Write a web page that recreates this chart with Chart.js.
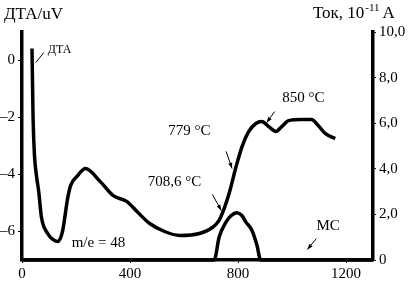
<!DOCTYPE html>
<html><head><meta charset="utf-8">
<script src="https://cdn.jsdelivr.net/npm/chart.js@4.4.0/dist/chart.umd.min.js"></script>
<style>html,body{margin:0;padding:0;background:#fff}#wrap{width:409px;height:282px}</style>
</head><body><div id="wrap"><canvas id="c" width="409" height="282"></canvas></div>
<script>
// DTA curve (left axis, uV)
const dtaX = [37, 41, 46, 53, 62, 72, 95, 114, 132, 150, 169, 180, 206, 235, 290, 338, 389, 426, 473, 528, 584, 657, 705, 730, 749, 767, 793, 815, 840, 866, 888, 914, 940, 962, 987, 1035, 1072, 1097, 1123, 1160];
const dtaY = [0.42, -2.0, -3.3, -4.0, -4.6, -5.5, -6.07, -6.28, -6.35, -6.0, -4.84, -4.39, -4.04, -3.79, -4.25, -4.74, -4.95, -5.30, -5.72, -6.0, -6.14, -6.07, -5.86, -5.61, -5.19, -4.67, -3.72, -3.02, -2.49, -2.21, -2.14, -2.32, -2.49, -2.32, -2.11, -2.07, -2.07, -2.28, -2.56, -2.74];
// MS current (right axis, 10^-11 A), m/e = 48
const msX = [0, 712, 730, 756, 774, 796, 815, 829, 851, 870, 884, 1300];
const msY = [0, 0, 1.0, 1.67, 1.94, 2.07, 1.94, 1.67, 1.32, 0.66, 0, 0];
// tick labels
const xTicks = [0, 400, 800, 1200];
const yLeftTicks = [-6, -4, -2, 0];
const yRightTicks = [0, 2, 4, 6, 8, 10];
// annotations: [text, x, y, arrowFromX, arrowFromY, arrowToX, arrowToY]
const notes = [
  ['ДТА', 139, 0.39, 51, -0.07, 81, 0.28],
  ['708,6 °C', 565, -4.25, 705, -4.70, 738, -5.26],
  ['779 °C', 620, -2.49, 756, -3.19, 778, -3.79],
  ['850 °C', 1042, -1.33, 936, -1.79, 906, -2.18],
  ['m/e = 48', 283, -6.39, null, null, null, null],
  ['MC', 1134, -5.82, 1090, -6.25, 1057, -6.63]
];
const FONT = '"Liberation Serif", "Times New Roman", serif';

const annot = {
  id: 'annot',
  afterDraw(chart) {
    const ctx = chart.ctx, sx = chart.scales.x, sy = chart.scales.y;
    ctx.save();
    ctx.fillStyle = '#000'; ctx.strokeStyle = '#000';
    ctx.textAlign = 'center'; ctx.textBaseline = 'middle';
    notes.forEach((n, i) => {
      ctx.font = (i === 0 ? '12px ' : '15px ') + FONT;
      ctx.fillText(n[0], sx.getPixelForValue(n[1]), sy.getPixelForValue(n[2]));
      if (n[3] !== null) {
        const x1 = sx.getPixelForValue(n[3]), y1 = sy.getPixelForValue(n[4]);
        const x2 = sx.getPixelForValue(n[5]), y2 = sy.getPixelForValue(n[6]);
        ctx.lineWidth = 1;
        ctx.beginPath(); ctx.moveTo(x1, y1); ctx.lineTo(x2, y2); ctx.stroke();
        if (i > 0) {
          const a = Math.atan2(y2 - y1, x2 - x1), L = 6;
          ctx.beginPath();
          ctx.moveTo(x2, y2);
          ctx.lineTo(x2 - L * Math.cos(a - 0.35), y2 - L * Math.sin(a - 0.35));
          ctx.lineTo(x2 - L * Math.cos(a + 0.35), y2 - L * Math.sin(a + 0.35));
          ctx.closePath(); ctx.fill();
        }
      }
    });
    // axis titles
    ctx.textAlign = 'left'; ctx.textBaseline = 'alphabetic';
    ctx.font = '17px ' + FONT;
    ctx.fillText('ДТА/uV', 4, 19);
    let x = 313;
    const p1 = 'Ток, 10';
    ctx.fillText(p1, x, 18);
    x += ctx.measureText(p1).width;
    ctx.font = '11px ' + FONT;
    ctx.fillText('-11', x + 1, 11);
    x += ctx.measureText('-11').width + 4;
    ctx.font = '17px ' + FONT;
    ctx.fillText('A', x, 18);
    ctx.restore();
  }
};

new Chart(document.getElementById('c'), {
  type: 'line',
  data: {
    datasets: [
      { label: 'ДТА', yAxisID: 'y', data: dtaX.map((v, i) => ({x: v, y: dtaY[i]})),
        borderColor: '#000', borderWidth: 3.5, pointRadius: 0, cubicInterpolationMode: 'monotone', fill: false },
      { label: 'MC', yAxisID: 'y1', data: msX.map((v, i) => ({x: v, y: msY[i]})),
        borderColor: '#000', borderWidth: 3.5, pointRadius: 0, cubicInterpolationMode: 'monotone', fill: false, clip: false }
    ]
  },
  options: {
    responsive: false, animation: false,
    layout: { padding: { top: 32, left: 0, right: 0, bottom: 0 } },
    plugins: { legend: { display: false }, tooltip: { enabled: false } },
    scales: {
      x: {
        type: 'linear', min: 0, max: 1300,
        afterFit: s => { s.height = 22; },
        afterBuildTicks: s => { s.ticks = xTicks.map(v => ({value: v})); },
        grid: { drawOnChartArea: false, tickLength: 3, color: '#000', lineWidth: 1 },
        border: { color: '#000', width: 3.5 },
        ticks: { color: '#000', padding: 2, maxRotation: 0, font: { family: FONT, size: 15 },
          callback: v => String(v) }
      },
      y: {
        type: 'linear', position: 'left', min: -7, max: 1,
        afterFit: s => { s.width = 22; },
        afterBuildTicks: s => { s.ticks = yLeftTicks.map(v => ({value: v})); },
        grid: { drawOnChartArea: false, tickLength: 4, color: '#000', lineWidth: 1 },
        border: { color: '#000', width: 3.5 },
        ticks: { color: '#000', padding: 3, font: { family: FONT, size: 15 },
          callback: v => v < 0 ? '\u2013' + Math.abs(v) : String(v) }
      },
      y1: {
        type: 'linear', position: 'right', min: 0, max: 10,
        afterFit: s => { s.width = 36; },
        afterBuildTicks: s => { s.ticks = yRightTicks.map(v => ({value: v})); },
        grid: { drawOnChartArea: false, tickLength: 3, color: '#000', lineWidth: 1 },
        border: { color: '#000', width: 3.5 },
        ticks: { color: '#000', padding: 3, font: { family: FONT, size: 15 },
          callback: v => v === 0 ? '0' : v.toFixed(1).replace('.', ',') }
      }
    }
  },
  plugins: [annot]
});
</script></body></html>
